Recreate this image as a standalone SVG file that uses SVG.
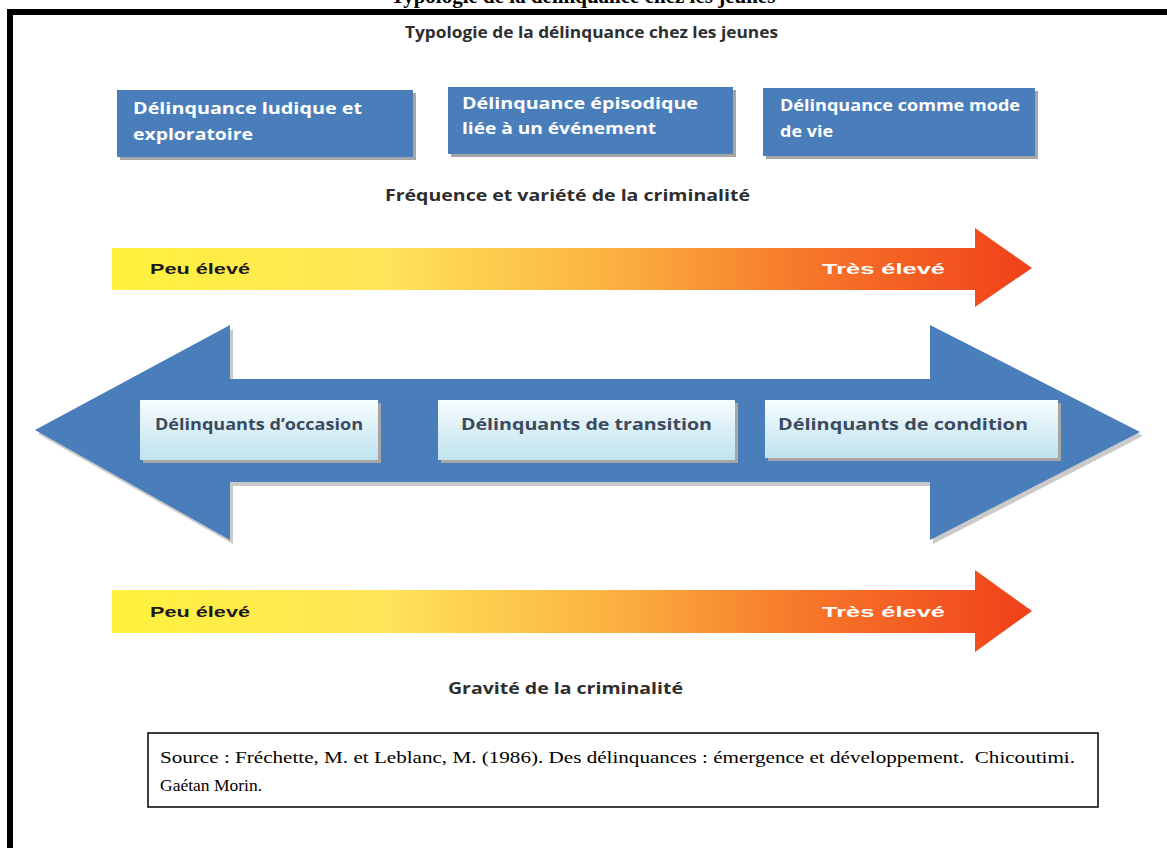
<svg xmlns="http://www.w3.org/2000/svg" width="1167" height="848" viewBox="0 0 1167 848">
<defs>
<linearGradient id="warm" x1="112" y1="0" x2="1032" y2="0" gradientUnits="userSpaceOnUse">
<stop offset="0" stop-color="#fff23c"/>
<stop offset="0.3" stop-color="#ffe45a"/>
<stop offset="0.55" stop-color="#fbb040"/>
<stop offset="0.75" stop-color="#f7782a"/>
<stop offset="1" stop-color="#f0401a"/>
</linearGradient>
<linearGradient id="pale" x1="0" y1="0" x2="0" y2="1">
<stop offset="0" stop-color="#f6fcfe"/>
<stop offset="1" stop-color="#bfe3ee"/>
</linearGradient>
<style>
.cal{font-family:"Open Sans","Liberation Sans",sans-serif;font-weight:bold}
.wt{fill:#ffffff;font-size:16px}
.dk{fill:#2e2e2e;font-size:16px}
.lb{fill:#3b4a5e;font-size:16px}
.ar{font-family:"Liberation Sans",Arial,sans-serif;font-weight:bold;font-size:15px}
.blue{fill:#4a7ebb}
.shadow{fill:#a6a6a6}
.ser{font-family:"Liberation Serif","Times New Roman",serif;font-size:17.5px;fill:#000}
</style>
</defs>
<rect width="1167" height="848" fill="#ffffff"/>
<text x="583" y="3" text-anchor="middle" font-family="Liberation Serif, serif" font-weight="bold" font-size="21" fill="#000">Typologie de la délinquance chez les jeunes</text>
<rect x="10" y="12" width="1170" height="850" fill="none" stroke="#000" stroke-width="6"/>

<text class="cal dk" x="405" y="38" textLength="373" lengthAdjust="spacingAndGlyphs">Typologie de la délinquance chez les jeunes</text>

<g id="box1">
<rect x="120" y="93" width="296" height="67" class="shadow"/>
<rect x="117" y="90" width="296" height="67" class="blue"/>
<text class="cal wt" x="133" y="114" textLength="229" lengthAdjust="spacingAndGlyphs">Délinquance ludique et</text>
<text class="cal wt" x="133" y="140" textLength="120" lengthAdjust="spacingAndGlyphs">exploratoire</text>
</g>
<g id="box2">
<rect x="451" y="90" width="285" height="67" class="shadow"/>
<rect x="448" y="87" width="285" height="67" class="blue"/>
<text class="cal wt" x="462" y="109" textLength="236" lengthAdjust="spacingAndGlyphs">Délinquance épisodique</text>
<text class="cal wt" x="462" y="134" textLength="194" lengthAdjust="spacingAndGlyphs">liée à un événement</text>
</g>
<g id="box3">
<rect x="766" y="91" width="272" height="68" class="shadow"/>
<rect x="763" y="88" width="272" height="68" class="blue"/>
<text class="cal wt" x="780" y="111" textLength="240" lengthAdjust="spacingAndGlyphs">Délinquance comme mode</text>
<text class="cal wt" x="780" y="137" textLength="53" lengthAdjust="spacingAndGlyphs">de vie</text>
</g>

<text class="cal dk" x="385" y="201" textLength="365" lengthAdjust="spacingAndGlyphs">Fréquence et variété de la criminalité</text>

<g id="arrow-frequency">
<polygon points="112,248 975,248 975,228 1032,268 975,307 975,290 112,290" fill="url(#warm)"/>
<text class="ar" x="150" y="274" fill="#1a1a1a" textLength="100" lengthAdjust="spacingAndGlyphs">Peu élevé</text>
<text class="ar" x="822" y="274" fill="#ffffff" textLength="123" lengthAdjust="spacingAndGlyphs">Très élevé</text>
</g>

<g id="double-arrow">
<polygon points="38,434 233,329 233,383 933,383 933,329 1143,436 933,544 933,486 233,486 233,544" class="shadow" opacity="0.6"/>
<polygon points="35,430 230,325 230,379 930,379 930,325 1140,432 930,540 930,482 230,482 230,540" class="blue"/>
</g>

<g id="node-occasion">
<rect x="143" y="403" width="238" height="60" class="shadow"/>
<rect x="140" y="400" width="238" height="60" fill="url(#pale)"/>
<text class="cal lb" x="155" y="430" textLength="208" lengthAdjust="spacingAndGlyphs">Délinquants d’occasion</text>
</g>
<g id="node-transition">
<rect x="441" y="403" width="297" height="60" class="shadow"/>
<rect x="438" y="400" width="297" height="60" fill="url(#pale)"/>
<text class="cal lb" x="461" y="430" textLength="251" lengthAdjust="spacingAndGlyphs">Délinquants de transition</text>
</g>
<g id="node-condition">
<rect x="768" y="403" width="293" height="58" class="shadow"/>
<rect x="765" y="400" width="293" height="58" fill="url(#pale)"/>
<text class="cal lb" x="778" y="430" textLength="250" lengthAdjust="spacingAndGlyphs">Délinquants de condition</text>
</g>

<g id="arrow-gravity">
<polygon points="112,590 975,590 975,570 1032,611 975,652 975,633 112,633" fill="url(#warm)"/>
<text class="ar" x="150" y="617" fill="#1a1a1a" textLength="100" lengthAdjust="spacingAndGlyphs">Peu élevé</text>
<text class="ar" x="822" y="617" fill="#ffffff" textLength="123" lengthAdjust="spacingAndGlyphs">Très élevé</text>
</g>

<text class="cal dk" x="448" y="694" textLength="235" lengthAdjust="spacingAndGlyphs">Gravité de la criminalité</text>

<g id="source">
<rect x="148" y="733" width="950" height="74" fill="#ffffff" stroke="#000" stroke-width="1.5"/>
<text class="ser" x="160" y="763" xml:space="preserve" textLength="915" lengthAdjust="spacingAndGlyphs">Source : Fréchette, M. et Leblanc, M. (1986). Des délinquances : émergence et développement.  Chicoutimi.</text>
<text class="ser" x="160" y="791">Gaétan Morin.</text>
</g>
</svg>
